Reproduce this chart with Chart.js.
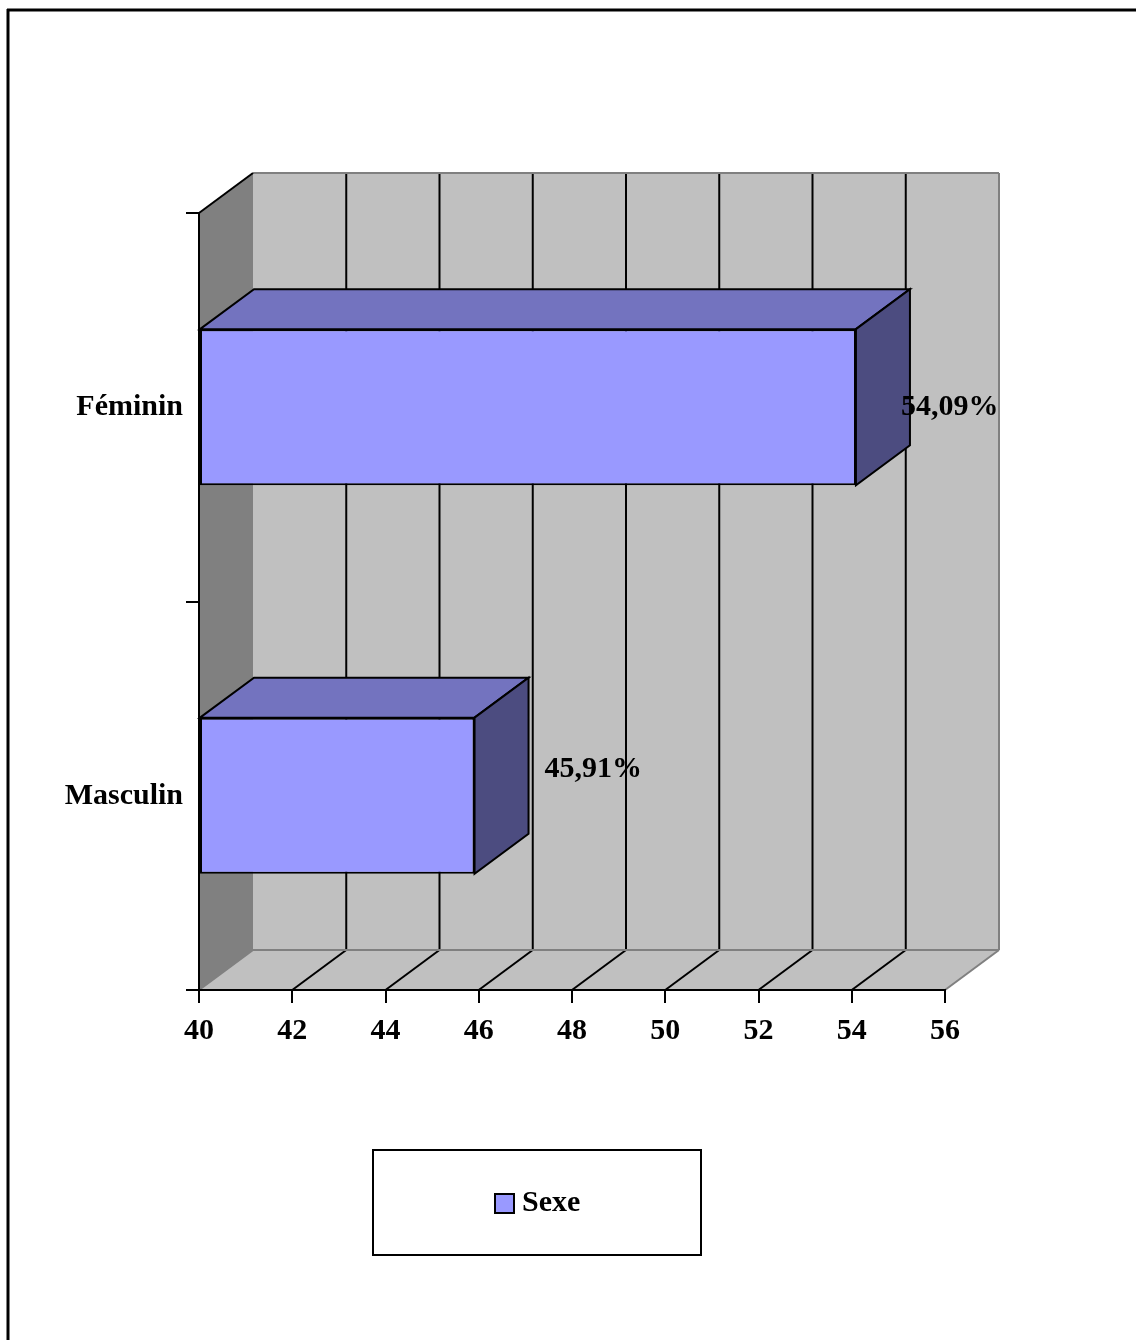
<!DOCTYPE html>
<html>
<head>
<meta charset="utf-8">
<style>
  html, body { margin: 0; padding: 0; background: #ffffff; }
  #wrap { width: 1136px; height: 1340px; }
</style>
<script src="https://cdn.jsdelivr.net/npm/chart.js@4.4.1/dist/chart.umd.min.js"></script>
</head>
<body>
<div id="wrap"><canvas id="chart" width="1136" height="1340"></canvas></div>
<script>
// Data
const categories = ['Féminin', 'Masculin'];
const seriesName = 'Sexe';
const sexeValues = [54.09, 45.91];
const axisMin = 40;
const axisMax = 56;
const axisStep = 2;

// Styling
const FONT = '"Liberation Serif", "Times New Roman", serif';
const DEPTH_X = 54;
const DEPTH_Y = 40;
const WALL = '#c0c0c0';
const SIDE_WALL = '#808080';
const WALL_EDGE = '#808080';
const BAR_FRONT = '#9999ff';
const BAR_TOP = '#7373bf';
const BAR_SIDE = '#4c4c80';
const labelShift = [{ dx: 45, dy: 0 }, { dx: 70, dy: -27 }];

function line(ctx, x1, y1, x2, y2, color, w) {
  ctx.beginPath();
  ctx.moveTo(x1, y1);
  ctx.lineTo(x2, y2);
  ctx.strokeStyle = color;
  ctx.lineWidth = w;
  ctx.stroke();
}

function poly(ctx, pts, fill, stroke, w) {
  ctx.beginPath();
  ctx.moveTo(pts[0][0], pts[0][1]);
  for (let i = 1; i < pts.length; i++) ctx.lineTo(pts[i][0], pts[i][1]);
  ctx.closePath();
  if (fill) { ctx.fillStyle = fill; ctx.fill(); }
  if (stroke) { ctx.strokeStyle = stroke; ctx.lineWidth = w; ctx.lineJoin = 'miter'; ctx.stroke(); }
}

// Walls, floor and gridlines of the 3D box
const boxPlugin = {
  id: 'box3d',
  beforeDraw(chart) {
    const ctx = chart.ctx;
    const a = chart.chartArea;
    const xs = chart.scales.x;
    ctx.save();
    ctx.fillStyle = '#ffffff';
    ctx.fillRect(0, 0, chart.width, chart.height);

    // page frame
    line(ctx, 7, 10, chart.width, 10, '#000', 3);
    line(ctx, 8, 9, 8, chart.height, '#000', 3);

    const L = a.left, R = a.right, T = a.top, B = a.bottom;
    // back wall
    poly(ctx, [[L + DEPTH_X, T - DEPTH_Y], [R + DEPTH_X, T - DEPTH_Y], [R + DEPTH_X, B - DEPTH_Y], [L + DEPTH_X, B - DEPTH_Y]], WALL);
    // floor
    poly(ctx, [[L, B], [R, B], [R + DEPTH_X, B - DEPTH_Y], [L + DEPTH_X, B - DEPTH_Y]], WALL);
    // side wall
    poly(ctx, [[L, T], [L + DEPTH_X, T - DEPTH_Y], [L + DEPTH_X, B - DEPTH_Y], [L, B]], SIDE_WALL);

    // gridlines on back wall and floor
    for (let v = axisMin + axisStep; v < axisMax; v += axisStep) {
      const px = xs.getPixelForValue(v);
      line(ctx, px + DEPTH_X, T - DEPTH_Y, px + DEPTH_X, B - DEPTH_Y, '#000', 2);
      line(ctx, px, B, px + DEPTH_X, B - DEPTH_Y, '#000', 2);
    }
    // wall edges
    line(ctx, L + DEPTH_X, T - DEPTH_Y, R + DEPTH_X, T - DEPTH_Y, WALL_EDGE, 2);
    line(ctx, R + DEPTH_X, T - DEPTH_Y, R + DEPTH_X, B - DEPTH_Y, WALL_EDGE, 2);
    line(ctx, L + DEPTH_X, B - DEPTH_Y, R + DEPTH_X, B - DEPTH_Y, WALL_EDGE, 2);
    line(ctx, R, B, R + DEPTH_X, B - DEPTH_Y, WALL_EDGE, 2);
    line(ctx, L, B, L + DEPTH_X, B - DEPTH_Y, WALL_EDGE, 2);
    line(ctx, L, T, L + DEPTH_X, T - DEPTH_Y, '#000', 2);
    ctx.restore();
  },
  afterDatasetsDraw(chart) {
    const ctx = chart.ctx;
    const meta = chart.getDatasetMeta(0);
    const ds = chart.data.datasets[0];
    ctx.save();
    meta.data.forEach((bar, i) => {
      const p = bar.getProps(['x', 'y', 'base', 'height'], true);
      const x0 = p.base, x1 = p.x;
      const top = p.y - p.height / 2, bot = p.y + p.height / 2;
      poly(ctx, [[x0, top], [x0 + DEPTH_X, top - DEPTH_Y], [x1 + DEPTH_X, top - DEPTH_Y], [x1, top]], BAR_TOP, '#000', 2);
      poly(ctx, [[x1, top], [x1 + DEPTH_X, top - DEPTH_Y], [x1 + DEPTH_X, bot - DEPTH_Y], [x1, bot]], BAR_SIDE, '#000', 2);
      // value label
      const txt = ds.data[i].toFixed(2).replace('.', ',') + '%';
      ctx.font = 'bold 30px ' + FONT;
      ctx.fillStyle = '#000';
      ctx.textAlign = 'left';
      ctx.textBaseline = 'middle';
      ctx.fillText(txt, x1 + labelShift[i].dx, p.y + labelShift[i].dy);
    });
    ctx.restore();
  },
  afterDraw(chart) {
    const ctx = chart.ctx;
    const ds = chart.data.datasets[0];
    ctx.save();
    // legend frame
    ctx.fillStyle = '#fff';
    ctx.fillRect(373, 1150, 328, 105);
    ctx.strokeStyle = '#000';
    ctx.lineWidth = 2;
    ctx.strokeRect(373, 1150, 328, 105);
    // legend swatch and text
    ctx.fillStyle = ds.backgroundColor;
    ctx.fillRect(495, 1194, 19, 19);
    ctx.strokeRect(495, 1194, 19, 19);
    ctx.font = 'bold 30px ' + FONT;
    ctx.fillStyle = '#000';
    ctx.textAlign = 'left';
    ctx.textBaseline = 'middle';
    ctx.fillText(ds.label, 522, 1203);
    ctx.restore();
  }
};

new Chart(document.getElementById('chart'), {
  type: 'bar',
  data: {
    labels: categories,
    datasets: [{
      label: seriesName,
      data: sexeValues,
      base: axisMin,
      backgroundColor: BAR_FRONT,
      borderColor: '#000',
      borderWidth: 2,
      borderSkipped: false,
      categoryPercentage: 1,
      barPercentage: 0.402
    }]
  },
  options: {
    indexAxis: 'y',
    responsive: false,
    animation: false,
    devicePixelRatio: 1,
    layout: { padding: { left: 0, top: 213, right: 191, bottom: 270 } },
    plugins: {
      legend: { display: false },
      tooltip: { enabled: false }
    },
    scales: {
      x: {
        type: 'linear',
        min: axisMin,
        max: axisMax,
        ticks: {
          stepSize: axisStep,
          color: '#000',
          font: { family: FONT, size: 30, weight: 'bold' },
          padding: 10,
          maxRotation: 0
        },
        grid: { drawOnChartArea: false, drawTicks: true, tickLength: 13, color: '#000', lineWidth: 2 },
        border: { display: true, color: '#000', width: 2 },
        afterFit(scale) { scale.height = 80; }
      },
      y: {
        type: 'category',
        ticks: {
          color: '#000',
          font: { family: FONT, size: 30, weight: 'bold' },
          padding: 3,
          autoSkip: false
        },
        grid: { drawOnChartArea: false, drawTicks: true, tickLength: 13, color: '#000', lineWidth: 2, offset: true },
        border: { display: true, color: '#000', width: 2 },
        afterFit(scale) { scale.width = 199; }
      }
    }
  },
  plugins: [boxPlugin]
});
</script>
</body>
</html>
